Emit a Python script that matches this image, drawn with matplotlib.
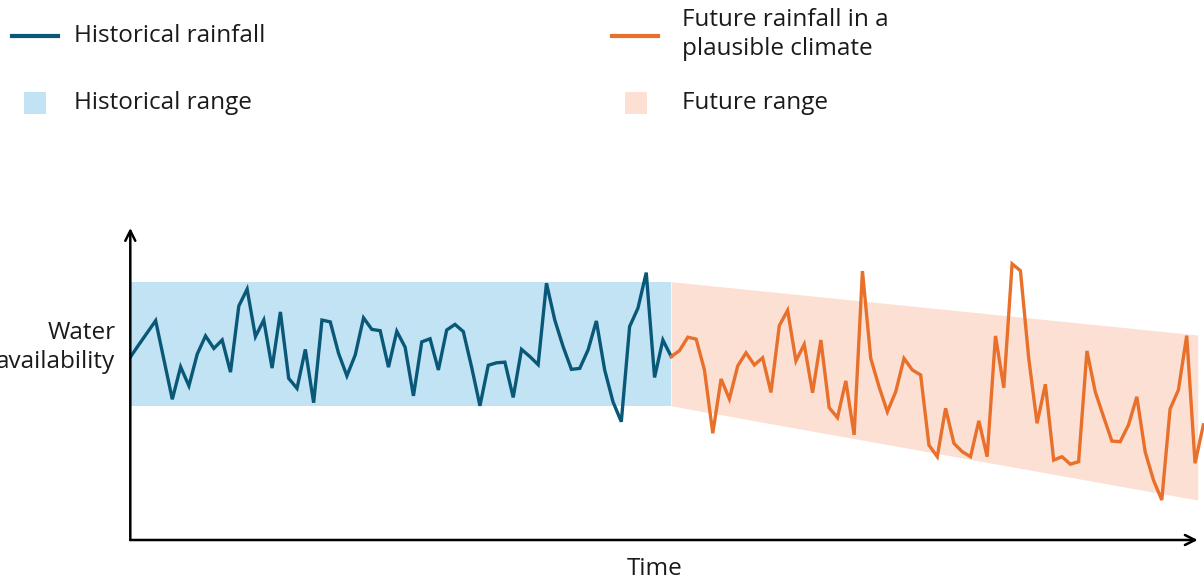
import matplotlib
matplotlib.use('Agg')
import matplotlib.pyplot as plt
from matplotlib.lines import Line2D
from matplotlib.patches import Rectangle
import numpy as np

plt.rcParams['font.family'] = ['Open Sans', 'DejaVu Sans']

# Historical rainfall (arbitrary units, axis runs 0-100), one value per time step
hist_values = [58.8, 62.7, 66.5, 70.3, 57.7, 45.1, 55.5, 49.4, 59.6, 65.4,
               61.4, 64.1, 53.8, 75.0, 80.4, 65.2, 70.5, 55.1, 73.1, 51.8,
               48.6, 61.1, 44.0, 70.5, 69.9, 59.8, 52.6, 59.3, 71.2, 67.5,
               67.1, 55.4, 66.9, 61.8, 46.2, 63.5, 64.5, 54.5, 67.3, 69.1,
               66.8, 55.4, 43.0, 56.0, 56.8, 57.0, 45.7, 61.1, 58.8, 56.2,
               82.3, 70.5, 62.0, 54.7, 55.0, 60.9, 70.2, 54.5, 44.3, 37.9,
               68.4, 74.3, 85.7, 52.1, 64.1, 58.8]

# Future rainfall in a plausible climate, starting where the history ends
future_values = [58.8, 60.7, 65.0, 64.4, 54.5, 34.2, 51.6, 45.2, 55.8, 60.0,
                 56.1, 58.4, 47.3, 68.7, 73.6, 57.4, 62.7, 47.2, 64.1, 42.4,
                 39.2, 51.0, 33.7, 86.2, 58.2, 49.1, 41.1, 47.5, 58.2, 54.5,
                 52.9, 30.4, 26.7, 42.2, 31.0, 28.3, 26.7, 38.2, 26.7, 65.4,
                 48.8, 88.5, 86.3, 58.2, 37.4, 49.9, 25.6, 26.7, 24.3, 25.1,
                 60.6, 47.5, 39.5, 31.7, 31.5, 36.9, 45.9, 28.3, 19.2, 12.8,
                 42.0, 48.1, 65.5, 24.6, 36.9]

# Ranges
hist_range = (43.0, 82.8)
future_start_range = (43.0, 82.8)
future_end_range = (12.8, 65.7)

x_min, x_max = -0.05, 128.32

hist_t = np.arange(len(hist_values))
future_t = np.arange(len(future_values)) + hist_t[-1]

blue = '#0a5878'
orange = '#e8702a'
blue_fill = '#c2e3f3'
orange_fill = '#fce0d4'
text_col = '#1a1a1a'

W, H = 1204, 581
fig = plt.figure(figsize=(W / 100, H / 100), dpi=100)
ax = fig.add_axes([130.3 / W, 41 / H, (1197.7 - 130.3) / W, 312 / H])
ax.set_xlim(x_min, x_max)
ax.set_ylim(0, 100)
ax.axis('off')

# bands
ax.fill_between([x_min, hist_t[-1]], hist_range[0], hist_range[1],
                color=blue_fill, lw=0, zorder=1)
ax.fill_between([future_t[0], x_max],
                [future_start_range[0], future_end_range[0]],
                [future_start_range[1], future_end_range[1]],
                color=orange_fill, lw=0, zorder=1)

# lines
ax.plot(hist_t, hist_values, color=blue, lw=2.4, zorder=3,
        solid_joinstyle='miter')
ax.plot(future_t, future_values, color=orange, lw=2.4, zorder=3,
        clip_on=False, solid_joinstyle='miter')

# axis arrows
arrow = dict(arrowstyle='->', color='black', lw=1.8, mutation_scale=18,
             shrinkA=0, shrinkB=0)
ax.annotate('', xy=(0, 1), xytext=(0, 0), xycoords='axes fraction',
            arrowprops=arrow, zorder=4)
ax.annotate('', xy=(1, 0), xytext=(0, 0), xycoords='axes fraction',
            arrowprops=arrow, zorder=4)

fs = 17.5
# the label runs off the left edge, as in the original
ax.text(-0.014, 0.617, 'Water\navailability', transform=ax.transAxes,
        ha='right', va='center', fontsize=fs, color=text_col,
        linespacing=1.33)
ax.text(0.491, -0.092, 'Time', transform=ax.transAxes, ha='center',
        va='center', fontsize=fs, color=text_col)


# legend, drawn by hand (figure pixel positions)
def fx(px):
    return px / W


def fy(py):
    return 1 - py / H


fig.add_artist(Line2D([fx(12), fx(58)], [fy(36), fy(36)], color=blue, lw=3))
fig.text(fx(74), fy(36), 'Historical rainfall', fontsize=fs,
         va='center', color=text_col)
fig.add_artist(Rectangle((fx(24), fy(114)), 22 / W, 22 / H,
                         color=blue_fill, lw=0))
fig.text(fx(74), fy(103), 'Historical range', fontsize=fs,
         va='center', color=text_col)

fig.add_artist(Line2D([fx(612), fx(658)], [fy(36), fy(36)], color=orange,
                      lw=3))
fig.text(fx(682), fy(34.5), 'Future rainfall in a\nplausible climate',
         fontsize=fs, va='center', color=text_col, linespacing=1.33)
fig.add_artist(Rectangle((fx(625), fy(114)), 22 / W, 22 / H,
                         color=orange_fill, lw=0))
fig.text(fx(682), fy(103), 'Future range', fontsize=fs,
         va='center', color=text_col)

fig.savefig('out.png', dpi=100)
